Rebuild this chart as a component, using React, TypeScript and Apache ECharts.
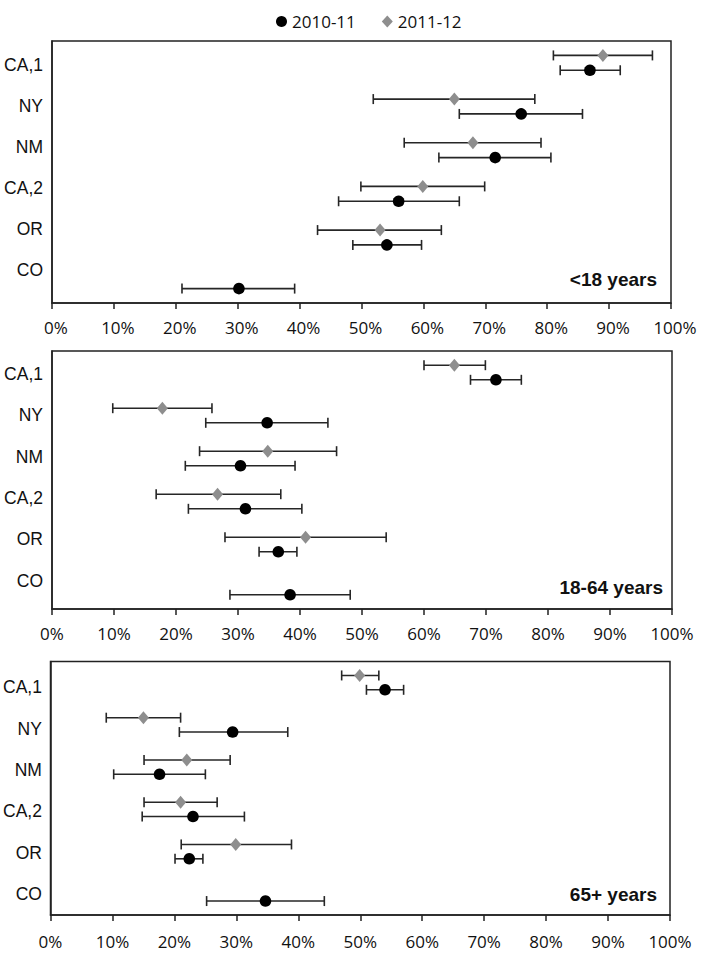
import React, { useEffect, useRef } from "react";
import * as echarts from "echarts";

// Categories (top to bottom)
const categories = ["CA,1", "NY", "NM", "CA,2", "OR", "CO"];
const seriesNames = ["2010-11", "2011-12"];
const panelTitles = ["<18 years", "18-64 years", "65+ years"];

// [estimate %, lower CI %, upper CI %] per category; null = no data
const under18_2010 = [[86.9, 82.1, 91.8], [75.8, 65.8, 85.7], [71.6, 62.5, 80.6], [56.0, 46.3, 65.8], [54.1, 48.6, 59.7], [30.2, 21.0, 39.2]];
const under18_2011 = [[89.0, 81.0, 97.0], [65.0, 51.9, 78.0], [68.0, 56.9, 79.0], [59.9, 49.9, 69.9], [53.0, 42.9, 62.9], null];
const adult_2010 = [[71.6, 67.5, 75.7], [34.7, 24.8, 44.5], [30.4, 21.5, 39.2], [31.2, 22.0, 40.3], [36.5, 33.4, 39.5], [38.4, 28.7, 48.1]];
const adult_2011 = [[64.9, 60.0, 69.9], [17.8, 9.8, 25.8], [34.8, 23.8, 45.9], [26.7, 16.8, 36.9], [40.9, 27.9, 53.9], null];
const senior_2010 = [[54.0, 51.0, 57.0], [29.4, 20.8, 38.3], [17.6, 10.2, 25.0], [23.0, 14.8, 31.3], [22.4, 20.1, 24.6], [34.7, 25.2, 44.2]];
const senior_2011 = [[49.9, 47.0, 53.0], [15.0, 9.0, 21.0], [22.0, 15.1, 29.0], [21.0, 15.1, 26.9], [29.9, 21.1, 38.9], null];

const xMin = 0;
const xMax = 100;
const xInterval = 10;

const panelData = [
  [under18_2010, under18_2011],
  [adult_2010, adult_2011],
  [senior_2010, senior_2011],
];

// layout (pixels)
const mainGrids = [
  { left: 52, width: 619, top: 41, height: 262 },
  { left: 52, width: 620, top: 351, height: 258 },
  { left: 50.5, width: 619.5, top: 661.5, height: 253.5 },
];
const labelGrids = [
  { left: 52, width: 619, top: 44.2, height: 246.8 },
  { left: 52, width: 620, top: 353.2, height: 248.2 },
  { left: 50.5, width: 619.5, top: 666.7, height: 248 },
];
const tickLabelMargin = [16, 16, 18];
const tickLabelShift = [8, 0, 0];
const titlePos = [
  { x: 657, y: 279 },
  { x: 663, y: 587 },
  { x: 657, y: 894 },
];

const AXIS_COLOR = "#222";
const BAR_COLOR = "#262626";
const BLACK = "#000000";
const GRAY = "#8e8e8e";

function makeRender(offset: number, kind: "circle" | "diamond", color: string) {
  return (_params: any, api: any) => {
    const ci = api.value(0);
    const c = api.coord([api.value(1), ci]);
    const lo = api.coord([api.value(2), ci]);
    const hi = api.coord([api.value(3), ci]);
    const band = api.size([0, 1])[1];
    const y = c[1] + offset * band;
    const cap = 5;
    const ls = { stroke: BAR_COLOR, lineWidth: 1.6 };
    const children: any[] = [
      { type: "line", shape: { x1: lo[0], y1: y, x2: hi[0], y2: y }, style: ls },
      { type: "line", shape: { x1: lo[0], y1: y - cap, x2: lo[0], y2: y + cap }, style: ls },
      { type: "line", shape: { x1: hi[0], y1: y - cap, x2: hi[0], y2: y + cap }, style: ls },
    ];
    if (kind === "circle") {
      children.push({ type: "circle", shape: { cx: c[0], cy: y, r: 5.8 }, style: { fill: color } });
    } else {
      const w = 5.5;
      const h = 6.5;
      children.push({
        type: "polygon",
        shape: { points: [[c[0], y - h], [c[0] + w, y], [c[0], y + h], [c[0] - w, y]] },
        style: { fill: color },
      });
    }
    return { type: "group", children };
  };
}

export default function App() {
  const ref = useRef<HTMLDivElement>(null);
  useEffect(() => {
    document.body.style.margin = "0";
    if (!ref.current) return;
    const chart = echarts.init(ref.current, undefined, { renderer: "svg" });

    const grids: any[] = [];
    const xAxes: any[] = [];
    const yAxes: any[] = [];
    const series: any[] = [];
    const graphics: any[] = [];

    mainGrids.forEach((g, p) => {
      grids.push({ ...g, show: true, borderColor: AXIS_COLOR, borderWidth: 1.5, backgroundColor: "#fff" });
      xAxes.push({
        gridIndex: p,
        type: "value",
        min: xMin,
        max: xMax,
        interval: xInterval,
        axisLine: { show: true, lineStyle: { color: AXIS_COLOR, width: 1.5 } },
        axisTick: { show: true, length: 6, lineStyle: { color: AXIS_COLOR, width: 1.5 } },
        axisLabel: {
          formatter: "{value}%",
          fontFamily: "Open Sans",
          fontSize: 17,
          color: "#111",
          margin: tickLabelMargin[p],
          padding: [0, 0, 0, tickLabelShift[p]],
        },
        splitLine: { show: false },
      });
      yAxes.push({
        gridIndex: p,
        type: "category",
        data: categories,
        inverse: true,
        axisLine: { show: true, lineStyle: { color: AXIS_COLOR, width: 1.5 } },
        axisTick: { show: false },
        axisLabel: { show: false },
        splitLine: { show: false },
      });
    });
    labelGrids.forEach((g, p) => {
      const gi = 3 + p;
      grids.push({ ...g, show: false });
      xAxes.push({ gridIndex: gi, type: "value", show: false, min: xMin, max: xMax });
      yAxes.push({
        gridIndex: gi,
        type: "category",
        data: categories,
        inverse: true,
        axisLine: { show: false },
        axisTick: { show: false },
        axisLabel: { fontFamily: "Liberation Sans", fontSize: 17.5, color: "#111", margin: 9 },
        splitLine: { show: false },
      });
    });

    panelData.forEach((pair, p) => {
      pair.forEach((rows, s) => {
        const data = (rows as any[])
          .map((r, i) => (r ? [i, r[0], r[1], r[2]] : null))
          .filter((d) => d !== null);
        const isBlack = s === 0;
        series.push({
          type: "custom",
          name: seriesNames[s],
          xAxisIndex: p,
          yAxisIndex: p,
          itemStyle: { color: isBlack ? BLACK : GRAY },
          encode: { x: [1, 2, 3], y: 0 },
          renderItem: makeRender(isBlack ? 0.17 : -0.17, isBlack ? "circle" : "diamond", isBlack ? BLACK : GRAY),
          data,
          z: isBlack ? 3 : 2,
        });
      });
      graphics.push({
        type: "text",
        x: titlePos[p].x,
        y: titlePos[p].y,
        style: {
          text: panelTitles[p],
          fontFamily: "Liberation Sans",
          fontWeight: "bold",
          fontSize: 19,
          fill: "#111",
          textAlign: "right",
          textVerticalAlign: "middle",
        },
        z: 100,
      });
    });

    chart.setOption({
      animation: false,
      backgroundColor: "#fff",
      legend: {
        data: [
          { name: seriesNames[0], icon: "circle" },
          { name: seriesNames[1], icon: "diamond" },
        ],
        left: 271,
        top: 8,
        itemWidth: 11,
        itemHeight: 12,
        itemGap: 26,
        textStyle: { fontFamily: "Open Sans", fontSize: 17, color: "#111" },
      },
      grid: grids,
      xAxis: xAxes,
      yAxis: yAxes,
      series,
      graphic: graphics,
    });
    return () => chart.dispose();
  }, []);
  return <div ref={ref} style={{ width: 713, height: 959 }} />;
}
